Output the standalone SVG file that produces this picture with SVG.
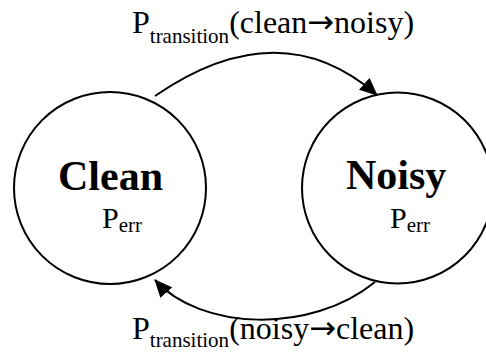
<svg xmlns="http://www.w3.org/2000/svg" width="486" height="352" viewBox="0 0 486 352">
<style>
.node{fill:none;stroke:#000;stroke-width:2}
.edge{fill:none;stroke:#000;stroke-width:2}
text{font-family:"Liberation Serif","Times New Roman",serif;fill:#000}
.title{font-size:42px;font-weight:bold}
.main{font-size:30px}
.lab{font-size:32px}
.sub{font-size:21px}
.arr{font-family:"DejaVu Sans",sans-serif;font-size:32px}
</style>
<defs>
<marker id="ah" markerWidth="18" markerHeight="16" refX="17" refY="8" orient="auto" markerUnits="userSpaceOnUse">
<path d="M0,0 L18,8 L0,16 z" fill="#000"/>
</marker>
</defs>
<rect width="486" height="352" fill="#fff"/>
<g id="clean">
<circle class="node" cx="110" cy="188" r="96"/>
<text class="title" x="58" y="190">Clean</text>
<text class="main" x="102" y="228">P<tspan class="sub" dy="4">err</tspan></text>
</g>
<g id="noisy">
<circle class="node" cx="397.5" cy="188" r="95.5"/>
<text class="title" x="346" y="189">Noisy</text>
<text class="main" x="390" y="228">P<tspan class="sub" dy="4">err</tspan></text>
</g>
<g id="connectors">
<path class="edge" d="M155,96 Q280,10 377,95" marker-end="url(#ah)"/>
<path class="edge" d="M375,282 C310,335 200,330 155,280" marker-end="url(#ah)"/>
</g>
<g id="labels">
<text class="lab" x="132" y="33">P<tspan class="sub" dy="10">transition</tspan><tspan dy="-10">(clean</tspan><tspan class="arr">→</tspan><tspan>noisy)</tspan></text>
<text class="lab" x="132" y="339">P<tspan class="sub" dy="8">transition</tspan><tspan dy="-8">(noisy</tspan><tspan class="arr">→</tspan><tspan>clean)</tspan></text>
</g>
</svg>
